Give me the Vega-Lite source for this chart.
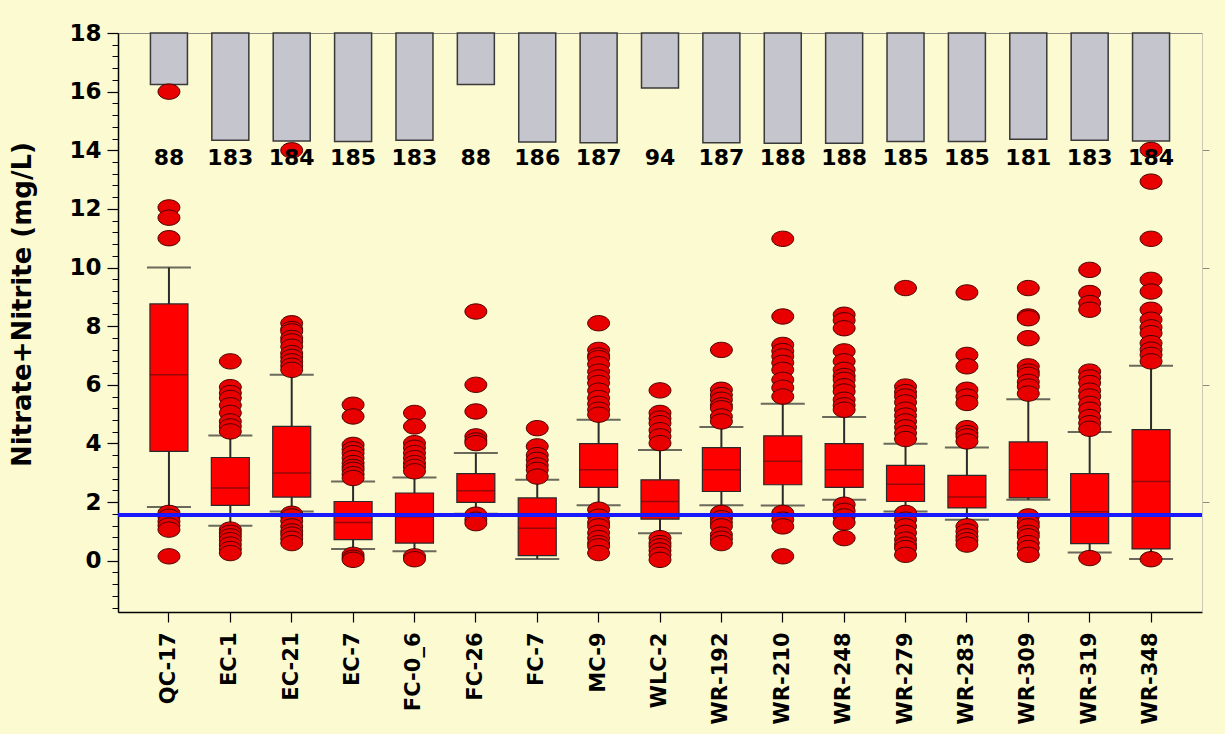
{
  "$schema": "https://vega.github.io/schema/vega-lite/v6.json",
  "width": 1084,
  "height": 579,
  "autosize": "none",
  "padding": {"left": 118, "top": 33, "right": 23, "bottom": 122},
  "background": "#fcfad0",
  "config": {"view": {"stroke": "#8a8a80", "strokeWidth": 1}, "font": "DejaVu Sans"},
  "datasets": {
    "stats": [
      {"site": "QC-17", "lo": 1.83, "q1": 3.73, "med": 6.34, "q3": 8.76, "hi": 10.0, "n": 88},
      {"site": "EC-1", "lo": 1.19, "q1": 1.89, "med": 2.48, "q3": 3.52, "hi": 4.27, "n": 183},
      {"site": "EC-21", "lo": 1.68, "q1": 2.17, "med": 2.99, "q3": 4.58, "hi": 6.34, "n": 184},
      {"site": "EC-7", "lo": 0.4, "q1": 0.72, "med": 1.3, "q3": 2.02, "hi": 2.7, "n": 185},
      {"site": "FC-0_6", "lo": 0.32, "q1": 0.6, "med": 1.5, "q3": 2.31, "hi": 2.84, "n": 183},
      {"site": "FC-26", "lo": 1.6, "q1": 1.99, "med": 2.39, "q3": 2.97, "hi": 3.67, "n": 88},
      {"site": "FC-7", "lo": 0.06, "q1": 0.17, "med": 1.11, "q3": 2.14, "hi": 2.76, "n": 186},
      {"site": "MC-9", "lo": 1.89, "q1": 2.5, "med": 3.1, "q3": 3.99, "hi": 4.81, "n": 187},
      {"site": "WLC-2", "lo": 0.94, "q1": 1.42, "med": 2.02, "q3": 2.76, "hi": 3.78, "n": 94},
      {"site": "WR-192", "lo": 1.89, "q1": 2.36, "med": 3.1, "q3": 3.86, "hi": 4.56, "n": 187},
      {"site": "WR-210", "lo": 1.88, "q1": 2.59, "med": 3.39, "q3": 4.26, "hi": 5.35, "n": 188},
      {"site": "WR-248", "lo": 2.08, "q1": 2.5, "med": 3.1, "q3": 3.99, "hi": 4.9, "n": 188},
      {"site": "WR-279", "lo": 1.68, "q1": 2.02, "med": 2.61, "q3": 3.25, "hi": 3.99, "n": 185},
      {"site": "WR-283", "lo": 1.4, "q1": 1.8, "med": 2.17, "q3": 2.91, "hi": 3.86, "n": 185},
      {"site": "WR-309", "lo": 2.08, "q1": 2.14, "med": 3.1, "q3": 4.05, "hi": 5.51, "n": 181},
      {"site": "WR-319", "lo": 0.28, "q1": 0.58, "med": 1.67, "q3": 2.97, "hi": 4.39, "n": 183},
      {"site": "WR-348", "lo": 0.06, "q1": 0.4, "med": 2.7, "q3": 4.47, "hi": 6.65, "n": 184}
    ],
    "outliers": [
      {"site": "QC-17", "v": 16.0}, {"site": "QC-17", "v": 12.05}, {"site": "QC-17", "v": 11.7}, {"site": "QC-17", "v": 11.0},
      {"site": "QC-17", "v": 1.63}, {"site": "QC-17", "v": 1.5}, {"site": "QC-17", "v": 1.34}, {"site": "QC-17", "v": 1.2}, {"site": "QC-17", "v": 1.06}, {"site": "QC-17", "v": 0.15},
      {"site": "EC-1", "v": 6.8}, {"site": "EC-1", "v": 5.92}, {"site": "EC-1", "v": 5.72}, {"site": "EC-1", "v": 5.55}, {"site": "EC-1", "v": 5.3}, {"site": "EC-1", "v": 5.04}, {"site": "EC-1", "v": 4.75}, {"site": "EC-1", "v": 4.58}, {"site": "EC-1", "v": 4.41},
      {"site": "EC-1", "v": 1.06}, {"site": "EC-1", "v": 0.95}, {"site": "EC-1", "v": 0.83}, {"site": "EC-1", "v": 0.7}, {"site": "EC-1", "v": 0.55}, {"site": "EC-1", "v": 0.4}, {"site": "EC-1", "v": 0.26},
      {"site": "EC-21", "v": 14.0}, {"site": "EC-21", "v": 8.1}, {"site": "EC-21", "v": 7.9}, {"site": "EC-21", "v": 7.82}, {"site": "EC-21", "v": 7.6}, {"site": "EC-21", "v": 7.48}, {"site": "EC-21", "v": 7.3}, {"site": "EC-21", "v": 7.08}, {"site": "EC-21", "v": 6.95}, {"site": "EC-21", "v": 6.8}, {"site": "EC-21", "v": 6.65}, {"site": "EC-21", "v": 6.51},
      {"site": "EC-21", "v": 1.6}, {"site": "EC-21", "v": 1.51}, {"site": "EC-21", "v": 1.35}, {"site": "EC-21", "v": 1.17}, {"site": "EC-21", "v": 1.0}, {"site": "EC-21", "v": 0.89}, {"site": "EC-21", "v": 0.75}, {"site": "EC-21", "v": 0.6},
      {"site": "EC-7", "v": 5.32}, {"site": "EC-7", "v": 4.92}, {"site": "EC-7", "v": 3.95}, {"site": "EC-7", "v": 3.8}, {"site": "EC-7", "v": 3.67}, {"site": "EC-7", "v": 3.5}, {"site": "EC-7", "v": 3.33}, {"site": "EC-7", "v": 3.2}, {"site": "EC-7", "v": 3.1}, {"site": "EC-7", "v": 2.95}, {"site": "EC-7", "v": 2.82},
      {"site": "EC-7", "v": 0.2}, {"site": "EC-7", "v": 0.1}, {"site": "EC-7", "v": 0.03},
      {"site": "FC-0_6", "v": 5.04}, {"site": "FC-0_6", "v": 4.58}, {"site": "FC-0_6", "v": 4.01}, {"site": "FC-0_6", "v": 3.85}, {"site": "FC-0_6", "v": 3.67}, {"site": "FC-0_6", "v": 3.5}, {"site": "FC-0_6", "v": 3.33}, {"site": "FC-0_6", "v": 3.2}, {"site": "FC-0_6", "v": 3.05},
      {"site": "FC-0_6", "v": 0.15}, {"site": "FC-0_6", "v": 0.05},
      {"site": "FC-26", "v": 8.5}, {"site": "FC-26", "v": 6.0}, {"site": "FC-26", "v": 5.09}, {"site": "FC-26", "v": 4.24}, {"site": "FC-26", "v": 4.1}, {"site": "FC-26", "v": 4.01},
      {"site": "FC-26", "v": 1.57}, {"site": "FC-26", "v": 1.4}, {"site": "FC-26", "v": 1.28},
      {"site": "FC-7", "v": 4.52}, {"site": "FC-7", "v": 3.9}, {"site": "FC-7", "v": 3.6}, {"site": "FC-7", "v": 3.44}, {"site": "FC-7", "v": 3.25}, {"site": "FC-7", "v": 3.1}, {"site": "FC-7", "v": 2.87},
      {"site": "MC-9", "v": 8.1}, {"site": "MC-9", "v": 7.19}, {"site": "MC-9", "v": 7.0}, {"site": "MC-9", "v": 6.91}, {"site": "MC-9", "v": 6.7}, {"site": "MC-9", "v": 6.45}, {"site": "MC-9", "v": 6.25}, {"site": "MC-9", "v": 6.06}, {"site": "MC-9", "v": 5.8}, {"site": "MC-9", "v": 5.55}, {"site": "MC-9", "v": 5.35}, {"site": "MC-9", "v": 5.15}, {"site": "MC-9", "v": 4.98},
      {"site": "MC-9", "v": 1.74}, {"site": "MC-9", "v": 1.5}, {"site": "MC-9", "v": 1.3}, {"site": "MC-9", "v": 1.17}, {"site": "MC-9", "v": 0.95}, {"site": "MC-9", "v": 0.77}, {"site": "MC-9", "v": 0.6}, {"site": "MC-9", "v": 0.49}, {"site": "MC-9", "v": 0.26},
      {"site": "WLC-2", "v": 5.81}, {"site": "WLC-2", "v": 5.04}, {"site": "WLC-2", "v": 4.85}, {"site": "WLC-2", "v": 4.69}, {"site": "WLC-2", "v": 4.45}, {"site": "WLC-2", "v": 4.24}, {"site": "WLC-2", "v": 4.01},
      {"site": "WLC-2", "v": 0.77}, {"site": "WLC-2", "v": 0.6}, {"site": "WLC-2", "v": 0.49}, {"site": "WLC-2", "v": 0.35}, {"site": "WLC-2", "v": 0.2}, {"site": "WLC-2", "v": 0.03},
      {"site": "WR-192", "v": 7.19}, {"site": "WR-192", "v": 5.83}, {"site": "WR-192", "v": 5.65}, {"site": "WR-192", "v": 5.49}, {"site": "WR-192", "v": 5.3}, {"site": "WR-192", "v": 5.2}, {"site": "WR-192", "v": 4.92}, {"site": "WR-192", "v": 4.75},
      {"site": "WR-192", "v": 1.63}, {"site": "WR-192", "v": 1.45}, {"site": "WR-192", "v": 1.3}, {"site": "WR-192", "v": 1.17}, {"site": "WR-192", "v": 0.89}, {"site": "WR-192", "v": 0.75}, {"site": "WR-192", "v": 0.6},
      {"site": "WR-210", "v": 10.98}, {"site": "WR-210", "v": 8.33}, {"site": "WR-210", "v": 7.36}, {"site": "WR-210", "v": 7.15}, {"site": "WR-210", "v": 6.97}, {"site": "WR-210", "v": 6.75}, {"site": "WR-210", "v": 6.51}, {"site": "WR-210", "v": 6.17}, {"site": "WR-210", "v": 5.9}, {"site": "WR-210", "v": 5.6},
      {"site": "WR-210", "v": 1.63}, {"site": "WR-210", "v": 1.4}, {"site": "WR-210", "v": 1.17}, {"site": "WR-210", "v": 0.15},
      {"site": "WR-248", "v": 8.39}, {"site": "WR-248", "v": 8.2}, {"site": "WR-248", "v": 7.93}, {"site": "WR-248", "v": 7.14}, {"site": "WR-248", "v": 6.8}, {"site": "WR-248", "v": 6.51}, {"site": "WR-248", "v": 6.3}, {"site": "WR-248", "v": 6.17}, {"site": "WR-248", "v": 5.95}, {"site": "WR-248", "v": 5.77}, {"site": "WR-248", "v": 5.49}, {"site": "WR-248", "v": 5.3}, {"site": "WR-248", "v": 5.15},
      {"site": "WR-248", "v": 1.91}, {"site": "WR-248", "v": 1.7}, {"site": "WR-248", "v": 1.51}, {"site": "WR-248", "v": 1.3}, {"site": "WR-248", "v": 0.77},
      {"site": "WR-279", "v": 9.3}, {"site": "WR-279", "v": 5.94}, {"site": "WR-279", "v": 5.75}, {"site": "WR-279", "v": 5.6}, {"site": "WR-279", "v": 5.4}, {"site": "WR-279", "v": 5.15}, {"site": "WR-279", "v": 4.95}, {"site": "WR-279", "v": 4.75}, {"site": "WR-279", "v": 4.55}, {"site": "WR-279", "v": 4.35}, {"site": "WR-279", "v": 4.15},
      {"site": "WR-279", "v": 1.63}, {"site": "WR-279", "v": 1.4}, {"site": "WR-279", "v": 1.17}, {"site": "WR-279", "v": 0.95}, {"site": "WR-279", "v": 0.72}, {"site": "WR-279", "v": 0.55}, {"site": "WR-279", "v": 0.43}, {"site": "WR-279", "v": 0.2},
      {"site": "WR-283", "v": 9.15}, {"site": "WR-283", "v": 7.02}, {"site": "WR-283", "v": 6.63}, {"site": "WR-283", "v": 5.83}, {"site": "WR-283", "v": 5.6}, {"site": "WR-283", "v": 5.38}, {"site": "WR-283", "v": 4.52}, {"site": "WR-283", "v": 4.35}, {"site": "WR-283", "v": 4.24}, {"site": "WR-283", "v": 4.07},
      {"site": "WR-283", "v": 1.17}, {"site": "WR-283", "v": 1.0}, {"site": "WR-283", "v": 0.83}, {"site": "WR-283", "v": 0.7}, {"site": "WR-283", "v": 0.55},
      {"site": "WR-309", "v": 9.3}, {"site": "WR-309", "v": 8.33}, {"site": "WR-309", "v": 8.27}, {"site": "WR-309", "v": 7.59}, {"site": "WR-309", "v": 6.63}, {"site": "WR-309", "v": 6.45}, {"site": "WR-309", "v": 6.34}, {"site": "WR-309", "v": 6.1}, {"site": "WR-309", "v": 5.94}, {"site": "WR-309", "v": 5.7},
      {"site": "WR-309", "v": 1.51}, {"site": "WR-309", "v": 1.3}, {"site": "WR-309", "v": 1.17}, {"site": "WR-309", "v": 0.95}, {"site": "WR-309", "v": 0.83}, {"site": "WR-309", "v": 0.6}, {"site": "WR-309", "v": 0.43}, {"site": "WR-309", "v": 0.2},
      {"site": "WR-319", "v": 9.92}, {"site": "WR-319", "v": 9.13}, {"site": "WR-319", "v": 8.79}, {"site": "WR-319", "v": 8.56}, {"site": "WR-319", "v": 6.45}, {"site": "WR-319", "v": 6.25}, {"site": "WR-319", "v": 6.06}, {"site": "WR-319", "v": 5.8}, {"site": "WR-319", "v": 5.6}, {"site": "WR-319", "v": 5.35}, {"site": "WR-319", "v": 5.15}, {"site": "WR-319", "v": 4.9}, {"site": "WR-319", "v": 4.69}, {"site": "WR-319", "v": 4.5},
      {"site": "WR-319", "v": 0.09},
      {"site": "WR-348", "v": 14.01}, {"site": "WR-348", "v": 12.93}, {"site": "WR-348", "v": 10.98}, {"site": "WR-348", "v": 9.58}, {"site": "WR-348", "v": 9.18}, {"site": "WR-348", "v": 8.56}, {"site": "WR-348", "v": 8.22}, {"site": "WR-348", "v": 7.96}, {"site": "WR-348", "v": 7.76}, {"site": "WR-348", "v": 7.42}, {"site": "WR-348", "v": 7.2}, {"site": "WR-348", "v": 7.02}, {"site": "WR-348", "v": 6.8},
      {"site": "WR-348", "v": 0.05}
    ]
  },
  "layer": [
    {
      "data": {"name": "stats"},
      "mark": {"type": "bar", "size": 37, "fill": "#c5c5cd", "stroke": "#3a3a3a", "strokeWidth": 1.5},
      "encoding": {
        "x": {
          "field": "site", "type": "nominal",
          "scale": {"type": "band", "paddingInner": 0, "paddingOuter": 0.33,
            "domain": ["QC-17","EC-1","EC-21","EC-7","FC-0_6","FC-26","FC-7","MC-9","WLC-2","WR-192","WR-210","WR-248","WR-279","WR-283","WR-309","WR-319","WR-348"]},
          "axis": {"title": null, "labelAngle": -90, "labelFont": "DejaVu Sans", "labelFontSize": 21, "labelFontWeight": "bold", "labelColor": "black", "labelPadding": 10, "tickSize": 10, "tickColor": "black", "tickWidth": 1.2, "domainColor": "black", "domainWidth": 1.5}
        },
        "y": {"field": "n", "type": "quantitative", "scale": {"domain": [0, 987.5], "reverse": true, "nice": false, "zero": false}, "axis": null},
        "y2": {"datum": 0}
      }
    },
    {
      "data": {"name": "stats"},
      "resolve": {"axis": {"y": "independent"}},
      "layer": [
        {
          "mark": {"type": "rule", "color": "#2b2b2b", "strokeWidth": 2},
          "encoding": {
            "x": {"field": "site", "type": "nominal"},
            "y": {"field": "lo", "type": "quantitative", "scale": {"domain": [-1.75, 18], "nice": false, "zero": false},
              "axis": {
                "orient": "left",
                "values": [0, 2, 4, 6, 8, 10, 12, 14, 16, 18],
                "format": "d",
                "tickSize": 11,
                "tickColor": "black", "tickWidth": 1.2,
                "domainColor": "black", "domainWidth": 1.5,
                "labelFont": "DejaVu Sans", "labelFontSize": 23, "labelFontWeight": "bold", "labelColor": "black", "labelPadding": 6,
                "grid": false,
                "title": "Nitrate+Nitrite (mg/L)",
                "titleFont": "DejaVu Sans", "titleFontSize": 26, "titleFontWeight": "bold", "titleColor": "black",
                "titleX": -96, "titleY": 271, "titleAlign": "center", "titleBaseline": "middle", "titleAngle": -90
              }
            },
            "y2": {"field": "hi"}
          }
        },
        {
          "mark": {"type": "bar", "size": 38, "fill": "#ff0000", "stroke": "#2a2a2a", "strokeWidth": 1.2},
          "encoding": {
            "x": {"field": "site", "type": "nominal"},
            "y": {"field": "q1", "type": "quantitative",
              "axis": {"orient": "right", "values": [2, 6, 10, 14], "labels": false, "title": null, "tickSize": 7, "tickColor": "#8a8a80", "domainColor": "#c9c8b8", "grid": false}},
            "y2": {"field": "q3"}
          }
        },
        {
          "mark": {"type": "tick", "size": 38, "thickness": 1.5, "color": "#6a0a0a"},
          "encoding": {
            "x": {"field": "site", "type": "nominal"},
            "y": {"field": "med", "type": "quantitative",
              "axis": {"orient": "left", "values": [-1.6,-1.2,-0.8,-0.4,0.4,0.8,1.2,1.6,2.4,2.8,3.2,3.6,4.4,4.8,5.2,5.6,6.4,6.8,7.2,7.6,8.4,8.8,9.2,9.6,10.4,10.8,11.2,11.6,12.4,12.8,13.2,13.6,14.4,14.8,15.2,15.6,16.4,16.8,17.2,17.6], "labels": false, "title": null, "domain": false, "tickSize": 6, "tickColor": "black", "tickWidth": 1, "grid": false}}
          }
        },
        {
          "mark": {"type": "tick", "size": 44, "thickness": 2, "color": "#2b2b2b"},
          "encoding": {
            "x": {"field": "site", "type": "nominal"},
            "y": {"field": "lo", "type": "quantitative", "axis": null}
          }
        },
        {
          "mark": {"type": "tick", "size": 44, "thickness": 2, "color": "#2b2b2b"},
          "encoding": {
            "x": {"field": "site", "type": "nominal"},
            "y": {"field": "hi", "type": "quantitative", "axis": null}
          }
        },
        {
          "data": {"name": "outliers"},
          "mark": {"type": "point", "filled": true, "shape": "M-1,0A1,0.7,0,1,1,1,0A1,0.7,0,1,1,-1,0Z", "size": 480, "fill": "#e80000", "fillOpacity": 1, "stroke": "#4a0000", "strokeWidth": 1, "strokeOpacity": 1},
          "encoding": {
            "x": {"field": "site", "type": "nominal"},
            "y": {"field": "v", "type": "quantitative", "axis": null}
          }
        },
        {
          "mark": {"type": "rule", "color": "#1a1aff", "strokeWidth": 3},
          "encoding": {"y": {"datum": 1.55, "axis": null}}
        },
        {
          "mark": {"type": "text", "font": "DejaVu Sans", "fontSize": 22, "fontWeight": "bold", "color": "black", "baseline": "middle", "align": "center"},
          "encoding": {
            "x": {"field": "site", "type": "nominal"},
            "y": {"datum": 13.75, "axis": null},
            "text": {"field": "n", "type": "quantitative"}
          }
        }
      ]
    }
  ],
  "resolve": {"scale": {"y": "independent"}}
}
